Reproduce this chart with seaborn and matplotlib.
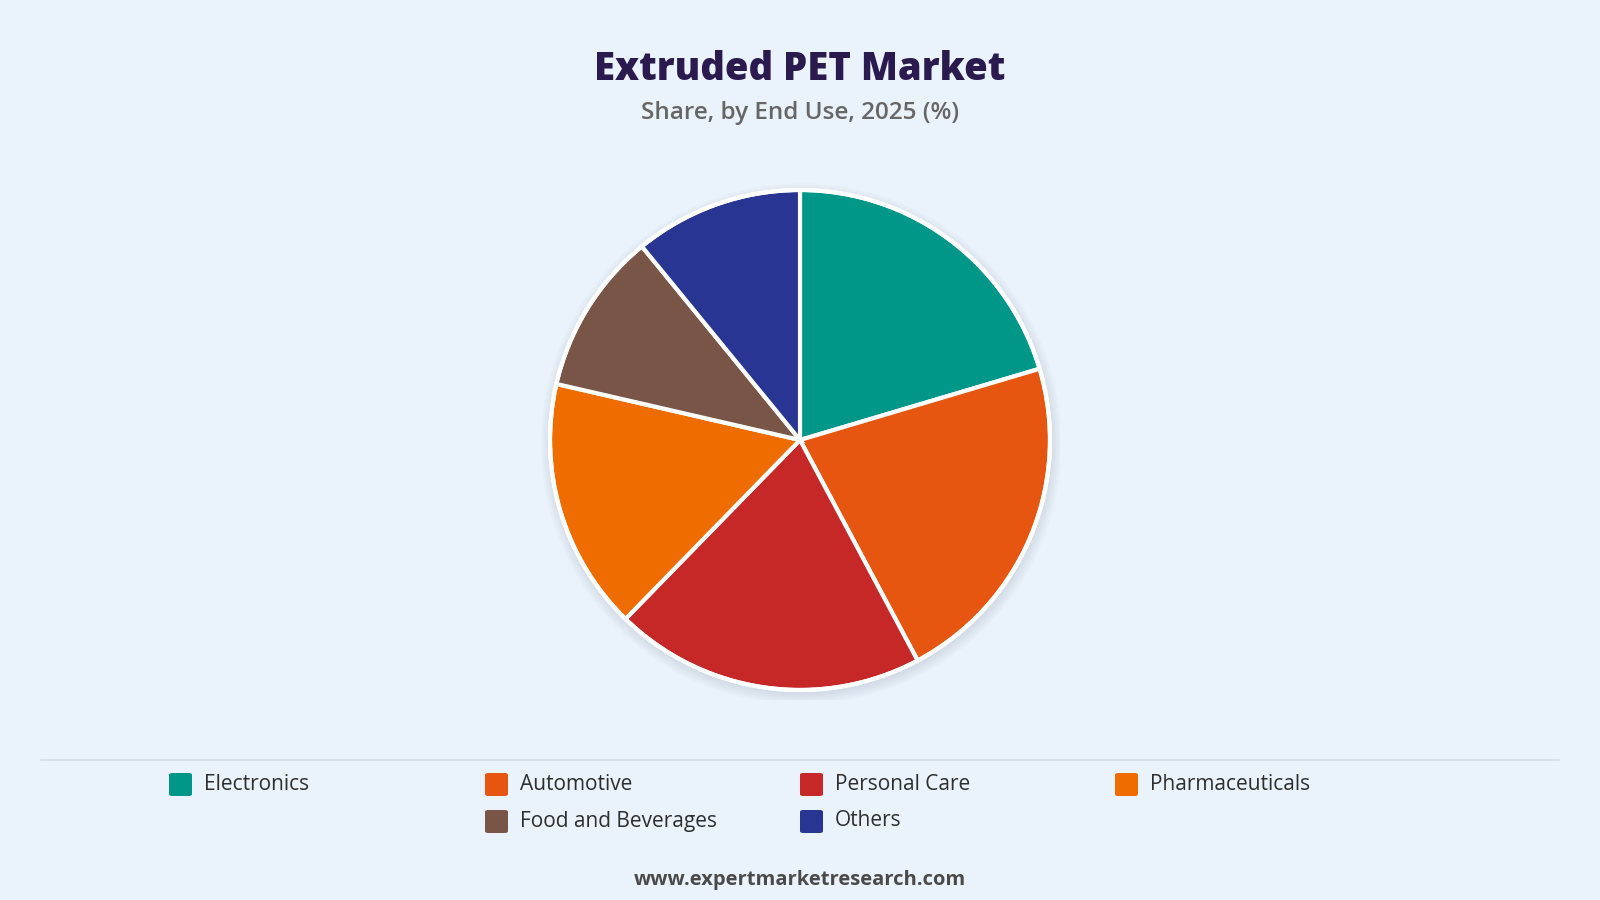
import seaborn as sns
import matplotlib.pyplot as plt
from matplotlib.patches import FancyBboxPatch, Circle

segments = ["Electronics", "Automotive", "Personal Care", "Pharmaceuticals",
            "Food and Beverages", "Others"]
shares = [20.4, 21.8, 20.1, 16.3, 10.5, 10.9]
colours = ["#009688", "#E65611", "#C62828", "#EF6C00", "#795548", "#283593"]

bg = "#EAF2FB"
sns.set_theme(style="white")
plt.rcParams["font.family"] = ["Open Sans", "DejaVu Sans"]

fig = plt.figure(figsize=(16, 9), dpi=100, facecolor=bg)

# pie axes, 520x520 px centred at (800, 440), radius 250 px
ax = fig.add_axes([540 / 1600, 1 - 700 / 900, 520 / 1600, 520 / 900])
ax.set_facecolor(bg)
ax.axis("off")

# soft shadow behind pie
for i in range(8):
    ax.add_patch(Circle((0.005, -0.015), 1.0 + i * 0.006, color="#9aa8b8",
                        alpha=0.035, lw=0, zorder=0))

pal = sns.color_palette(colours)
ax.pie(shares, colors=pal, startangle=90, counterclock=False, radius=1,
       wedgeprops=dict(edgecolor="white", linewidth=3, zorder=2))
ax.add_patch(Circle((0, 0), 1.0, fill=False, ec="white", lw=3, zorder=3))
ax.set_xlim(-1.04, 1.04)
ax.set_ylim(-1.04, 1.04)
ax.set_aspect("equal")

# titles
fig.text(0.5, 1 - 69 / 900, "Extruded PET Market", ha="center", va="center",
         fontsize=27.5, fontweight=800, color="#2A1A4E")
fig.text(0.5, 1 - 113 / 900, "Share, by End Use, 2025 (%)", ha="center",
         va="center", fontsize=17.5, fontweight=600, color="#666666")

# separator line
fig.add_artist(plt.Line2D([41 / 1600, 1559 / 1600], [1 - 760 / 900] * 2,
                          color="#D5DCE3", lw=1.2))

# legend drawn by hand
col_x = [169, 485, 800, 1115]
row_y = [784, 821]
spots = [(0, 0), (1, 0), (2, 0), (3, 0), (1, 1), (2, 1)]
for name, c, (ci, ri) in zip(segments, colours, spots):
    x = col_x[ci]
    y = row_y[ri]
    fig.add_artist(FancyBboxPatch((x / 1600, 1 - (y + 12) / 900),
                                  23 / 1600, 23 / 900,
                                  boxstyle="round,pad=0,rounding_size=0.002",
                                  transform=fig.transFigure, fc=c, ec="none"))
    fig.text((x + 35) / 1600, 1 - y / 900, name, ha="left", va="center",
             fontsize=15, fontweight=500, color="#2E2E2E")

fig.text(0.5, 1 - 880 / 900, "www.expertmarketresearch.com", ha="center",
         va="center", fontsize=14.5, fontweight="bold", color="#4A4A4A")

plt.savefig("out.png", dpi=100, facecolor=bg)
